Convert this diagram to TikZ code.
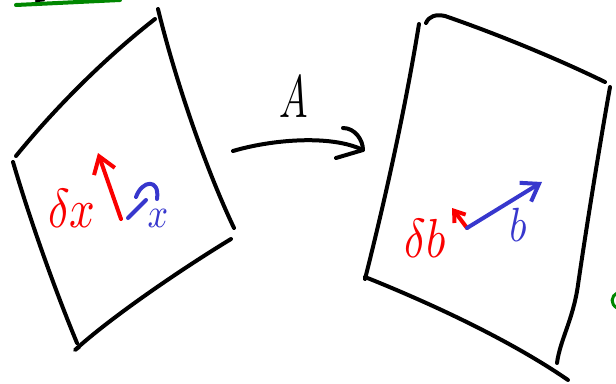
\documentclass[tikz,border=0pt]{standalone}
\usetikzlibrary{arrows.meta}
\definecolor{penred}{RGB}{250,0,0}
\definecolor{penblue}{RGB}{55,55,205}
\definecolor{pengreen}{RGB}{0,135,0}
\begin{document}
\begin{tikzpicture}[x=1pt,y=-1pt,
  pen/.style={line width=4pt,line cap=round,line join=round},
  ink/.style={pen,draw=black},
  redpen/.style={pen,draw=penred},
  bluepen/.style={pen,draw=penblue},
  greenpen/.style={pen,draw=pengreen},
  barb/.style={-{Straight Barb[length=16pt,width=22pt,line width=4pt]}},
  lbl/.style={inner sep=0pt}]
\useasboundingbox (0,0) rectangle (616,383);
% green fragments
\draw[greenpen] (16,5) -- (120,0);
\draw[ink,line width=2.5pt] (36,1) -- (44,0);
\draw[greenpen,line width=3pt] (617,293) .. controls (611,296) and (610,304) .. (617,308);
% left sheet
\coordinate (L1) at (16,156); \coordinate (L2) at (155,19);
\coordinate (L3) at (158,9);  \coordinate (L4) at (234,228);
\coordinate (L5) at (231,239); \coordinate (L6) at (75,350);
\coordinate (L7) at (13,162); \coordinate (L8) at (77,343);
\draw[ink] (L1) .. controls (55,108) and (105,58) .. (L2);
\draw[ink] (L3) .. controls (174,75) and (204,165) .. (L4);
\draw[ink] (L5) .. controls (180,270) and (110,318) .. (L6) -- (79,347);
\draw[ink] (L7) .. controls (30,220) and (55,290) .. (L8);
% left vectors
\coordinate (xs) at (121,219); \coordinate (xe) at (98,153);
\draw[redpen,barb] (xs) -- (xe);
\node[lbl,text=penred] (dx) at (72,208) {\scalebox{4.5}[5.5]{$\delta x$}};
\coordinate (bs) at (128,218); \coordinate (be) at (146,200);
\draw[bluepen] (bs) -- (be);
\draw[bluepen] (136,197) .. controls (142,180) and (160,178) .. (157,199);
\node[lbl,text=penblue] (xl) at (158,218) {\scalebox{3.6}[4.2]{$x$}};
% arrow A
\coordinate (as) at (233,151); \coordinate (ae) at (363,150);
\draw[ink] (as) .. controls (270,140) and (330,134) .. (ae);
\draw[ink] (343,128) .. controls (355,128) and (363,140) .. (ae) -- (336,158);
\node[lbl] (A) at (294,97) {\scalebox{3.8}[6]{$A$}};
% right sheet
\coordinate (R1) at (419,24); \coordinate (R2) at (365,279);
\coordinate (R3) at (426,23); \coordinate (R4) at (605,82);
\coordinate (R5) at (610,87); \coordinate (R6) at (557,363);
\coordinate (R7) at (365,277); \coordinate (R8) at (568,380);
\draw[ink] (R1) .. controls (405,110) and (385,200) .. (R2);
\draw[ink] (R3) .. controls (429,16) and (436,14) .. (445,16) .. controls (500,35) and (560,60) .. (R4);
\draw[ink] (R5) .. controls (597,160) and (583,250) .. (578,285) .. controls (573,320) and (560,340) .. (R6);
\draw[ink] (R7) .. controls (430,303) and (510,340) .. (R8);
% right vectors
\coordinate (o) at (467,228); \coordinate (dbe) at (452,208); \coordinate (b) at (542,182);
\draw[redpen,-{Straight Barb[length=10pt,width=14pt,line width=4pt]}] (o) -- (dbe);
\draw[bluepen,barb] (o) -- (b);
\node[lbl,text=penred] (db) at (425,238) {\scalebox{4.5}[5.5]{$\delta b$}};
\node[lbl,text=penblue] (bl) at (518,225) {\scalebox{4}[4.8]{$b$}};
\end{tikzpicture}
\end{document}
